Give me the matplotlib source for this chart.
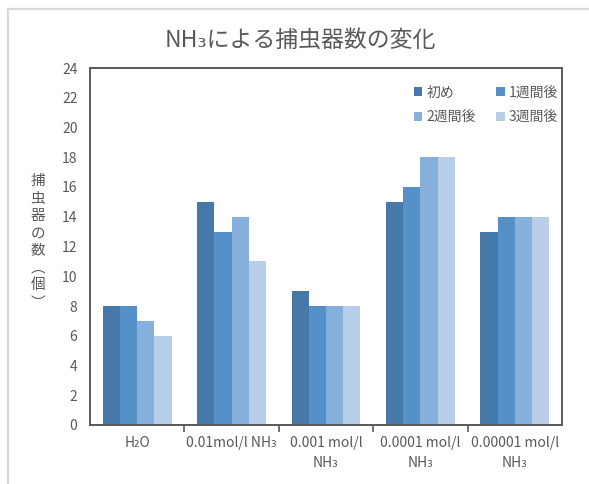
import matplotlib
matplotlib.use("Agg")
import matplotlib.pyplot as plt
from matplotlib.patches import Patch, Rectangle
import numpy as np

plt.rcParams['font.family'] = ['Noto Sans CJK JP', 'DejaVu Sans']

categories = ["H₂O", "0.01mol/l NH₃", "0.001 mol/l\nNH₃", "0.0001 mol/l\nNH₃", "0.00001 mol/l\nNH₃"]
series_names = ["初め", "1週間後", "2週間後", "3週間後"]
week0 = [8, 15, 9, 15, 13]
week1 = [8, 13, 8, 16, 14]
week2 = [7, 14, 8, 18, 14]
week3 = [6, 11, 8, 18, 14]
series_values = [week0, week1, week2, week3]
colors = ["#4678A8", "#5590C8", "#86AFDB", "#B8CDE8"]
yticks = list(range(0, 25, 2))

text_color = "#595959"

fig = plt.figure(figsize=(5.89, 4.84), dpi=100)
fig.patch.set_facecolor("white")

# light outer chart frame
fig.patches.append(Rectangle((8 / 589, -0.1), 1.2, 1 - 9 / 484 + 0.1,
                             transform=fig.transFigure, fill=False,
                             edgecolor="#D9D9D9", linewidth=1.6))

ax = fig.add_axes([90 / 589, 1 - 425 / 484, (562 - 90) / 589, (425 - 68) / 484])

n_series = len(series_values)
x = np.arange(len(categories))
bar_w = 1 / (n_series + 1.5)
for i, (vals, c, name) in enumerate(zip(series_values, colors, series_names)):
    offs = (i - (n_series - 1) / 2) * bar_w
    ax.bar(x + offs, vals, width=bar_w, color=c, label=name, linewidth=0)

ax.set_xlim(-0.5, len(categories) - 0.5)
ax.set_ylim(0, 24)
ax.set_yticks(yticks)
ax.set_yticklabels([str(t) for t in yticks])
ax.tick_params(axis="y", length=0, pad=9, labelsize=10, labelcolor=text_color)

# category labels centred, separator ticks between categories
ax.set_xticks(x)
ax.set_xticklabels(categories, fontsize=10, color=text_color, linespacing=1.55)
ax.tick_params(axis="x", which="major", length=0, pad=8)
ax.set_xticks(np.arange(0.5, len(categories) - 0.5, 1), minor=True)
ax.tick_params(axis="x", which="minor", length=5, width=1.2, color="#595959", direction="out")
for lbl in ax.get_xticklabels():
    lbl.set_verticalalignment("top")

for s in ax.spines.values():
    s.set_color("#595959")
    s.set_linewidth(1.4)

fig.text(0.51, 1 - 40 / 484, "NH₃による捕虫器数の変化", ha="center", va="center",
         fontsize=16.5, color=text_color)

fig.text(38 / 589, 1 - 242 / 484, "捕\n虫\n器\nの\n数\n︵\n個\n︶", ha="center", va="center",
         fontsize=10.5, color=text_color, linespacing=1.3)

# legend filled row by row: 初め, 1週間後 / 2週間後, 3週間後
order = [0, 2, 1, 3]
handles = [Patch(facecolor=colors[i], edgecolor="none") for i in order]
labels = [series_names[i] for i in order]
leg = ax.legend(handles, labels, ncol=2, loc="upper right",
                bbox_to_anchor=(568 / 589, 1 - 76 / 484), bbox_transform=fig.transFigure,
                frameon=False, fontsize=10, handlelength=0.6, handleheight=0.6,
                handletextpad=0.3, columnspacing=1.5, labelspacing=0.75, borderpad=0.2)
for t in leg.get_texts():
    t.set_color(text_color)

fig.savefig("out.png", dpi=100, facecolor="white")
